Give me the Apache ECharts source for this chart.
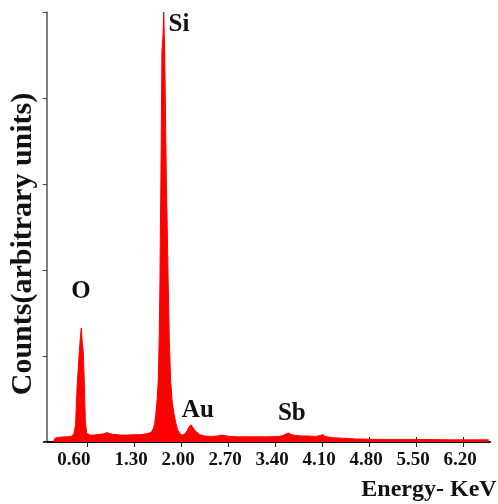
<!DOCTYPE html>
<html>
<head>
<meta charset="utf-8">
<script src="https://cdn.jsdelivr.net/npm/echarts@6/dist/echarts.min.js"></script>
<style>
html,body{margin:0;padding:0;background:#fff;}
#c{width:498px;height:504px;}
</style>
</head>
<body>
<div id="c"></div>
<script>
// Energy (keV) and counts (arbitrary units, % of Si peak)
const energy = [0.10,0.12,0.15,0.20,0.25,0.30,0.35,0.38,0.406,0.43,0.455,0.47,0.485,0.50,0.515,0.53,0.545,0.56,0.575,0.595,0.62,
  0.65,0.70,0.75,0.80,0.85,0.90,0.93,0.98,1.05,1.10,1.20,1.30,1.40,1.48,1.53,
  1.56,1.59,1.61,1.626,1.645,1.661,1.675,1.686,1.70,1.716,1.730,1.743,1.756,1.770,1.782,1.797,1.809,1.825,1.845,1.87,1.894,1.92,1.95,1.99,
  2.02,2.06,2.09,2.12,2.15,2.17,2.20,2.24,2.28,2.35,2.45,2.55,2.60,2.65,2.72,2.85,3.00,3.15,3.30,3.45,3.52,3.57,3.60,3.63,3.70,3.80,3.90,4.00,4.08,4.11,4.14,4.25,4.40,4.60,5.00,5.50,6.00,6.50,6.58];
const counts = [0,0.8,1.0,1.1,1.2,1.2,1.3,1.4,2,4,13.7,17,21,24,26.5,23,21,13.7,5,2,1.6,
  1.6,1.6,1.7,1.8,1.9,2.2,2.0,1.8,1.7,1.6,1.6,1.7,1.7,1.9,2.1,
  2.3,3.2,4.5,6.7,10,14.4,24,37,60,91,94,100,91,75,60,48,37,24,14.4,9,6.7,4.5,2.8,1.8,
  1.6,1.9,2.6,3.5,4.0,3.6,2.8,2.2,1.7,1.4,1.3,1.4,1.6,1.5,1.3,1.2,1.2,1.2,1.2,1.3,1.5,1.9,2.1,1.8,1.5,1.4,1.4,1.3,1.5,1.8,1.3,1.0,0.9,0.7,0.6,0.6,0.5,0.5,0.5];
const tickValues = [0.60,1.30,2.00,2.70,3.40,4.10,4.80,5.50,6.20];
const peakNames = ['Si','O','Au','Sb'];
const peakLabelX = [1.969,0.512,2.25,3.65];
const peakLabelY = [97.0,34.9,7.4,6.7];

const serif = '"Liberation Serif","Times New Roman",serif';
const chart = echarts.init(document.getElementById('c'), null, {renderer:'canvas'});
const seriesData = energy.map((e,i)=>[e,counts[i]]);

chart.setOption({
  backgroundColor:'#ffffff',
  animation:false,
  grid:{left:44,right:8,top:12,bottom:62,containLabel:false},
  xAxis:[{
    type:'value', min:-0.04, max:6.6, position:'bottom',
    axisLine:{show:true,lineStyle:{color:'#111',width:2}},
    axisTick:{show:true,customValues:tickValues,length:5,inside:false,lineStyle:{color:'#222',width:1}},
    axisLabel:{show:true,customValues:tickValues,margin:9,
      formatter:function(v){const s=v.toFixed(2); return Math.abs(v-0.6)<1e-6?'{f|'+s+'}':'{n|'+s+'}';},
      rich:{
        n:{fontFamily:serif,fontWeight:'bold',fontSize:19,color:'#111',padding:[0,6,0,0]},
        f:{fontFamily:serif,fontWeight:'bold',fontSize:19,color:'#111',padding:[0,26,0,0]}
      }},
    splitLine:{show:false}
  },{
    type:'value', min:-0.04, max:6.6, position:'bottom',
    axisLine:{show:false},
    axisTick:{show:true,customValues:tickValues,length:5,inside:true,lineStyle:{color:'#222',width:1}},
    axisLabel:{show:false},
    splitLine:{show:false}
  }],
  yAxis:{
    type:'value', min:0, max:100, interval:20,
    axisLine:{show:true,lineStyle:{color:'#555',width:1.5}},
    axisTick:{show:true,length:4,inside:false,lineStyle:{color:'#444',width:1}},
    axisLabel:{show:false},
    splitLine:{show:false}
  },
  series:[{
    type:'line',
    data:seriesData,
    showSymbol:false,
    symbol:'none',
    sampling:'none',
    z:1,
    lineStyle:{color:'#ff0000',width:1},
    areaStyle:{color:'#ff0000',opacity:1},
    markPoint:{
      symbol:'circle',symbolSize:0,
      label:{show:true,position:'inside',formatter:'{b}',fontFamily:serif,fontWeight:'bold',fontSize:25,color:'#111'},
      data:peakNames.map((n,i)=>({name:n,coord:[peakLabelX[i],peakLabelY[i]]}))
    }
  }],
  graphic:[
    {type:'text',x:23,y:244,rotation:Math.PI/2,
      style:{text:'Counts(arbitrary units)',font:'bold 30px '+serif,fill:'#111',align:'center',verticalAlign:'middle'}},
    {type:'text',x:429,y:490,
      style:{text:'Energy- KeV',font:'bold 24px '+serif,fill:'#111',align:'center',verticalAlign:'middle'}}
  ]
});
</script>
</body>
</html>
